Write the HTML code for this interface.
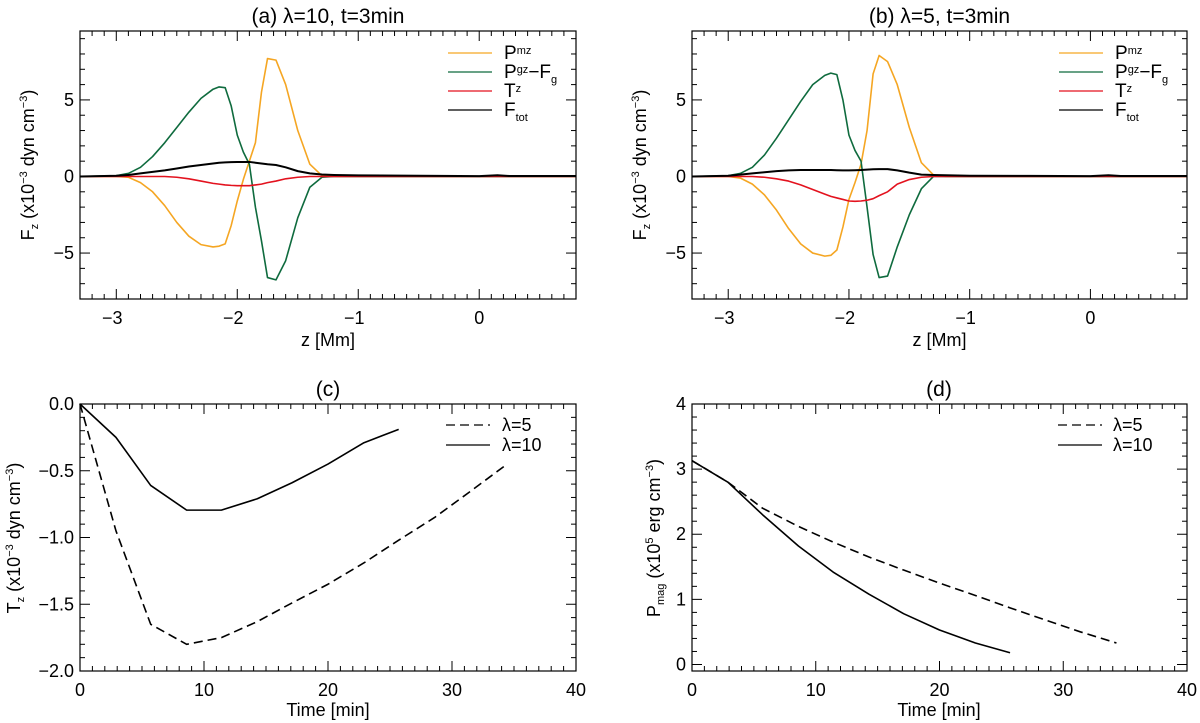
<!DOCTYPE html>
<html><head><meta charset="utf-8"><style>
html,body{margin:0;padding:0;background:#fff;}
svg{display:block;font-family:"Liberation Sans",sans-serif;}
</style></head><body>
<svg id="fig" width="1200" height="723" viewBox="0 0 1200 723"></svg>
<script>
// ---- data ----
const zGrid = [-3.3,-3.0,-2.9,-2.8,-2.7,-2.6,-2.5,-2.4,-2.3,-2.2,-2.15,-2.1,-2.05,-2.0,-1.95,-1.9,-1.85,-1.8,-1.75,-1.68,-1.6,-1.5,-1.4,-1.3,-1.2,-1.0,-0.5,0,0.15,0.25,0.8];
const aPmz  = [0,0,-0.05,-0.4,-1.0,-1.9,-3.0,-3.9,-4.45,-4.6,-4.55,-4.4,-3.2,-1.6,-0.2,1.0,2.2,5.5,7.7,7.6,6.0,3.0,0.8,0.05,0,0,0,0,0,0,0];
const aPgz  = [0,0.05,0.2,0.6,1.3,2.2,3.2,4.2,5.1,5.7,5.85,5.8,4.6,2.7,1.6,0.8,-2.0,-4.2,-6.6,-6.75,-5.5,-2.7,-0.7,-0.05,0,0,0,0,0,0,0];
const aTz   = [0,0,0,0,0,0,-0.05,-0.15,-0.3,-0.45,-0.5,-0.55,-0.58,-0.6,-0.6,-0.6,-0.55,-0.5,-0.4,-0.3,-0.15,-0.05,0,0,0,0,0,0,0,0,0];
const aFtot = [0,0.05,0.1,0.2,0.3,0.4,0.52,0.65,0.75,0.85,0.9,0.92,0.94,0.95,0.95,0.95,0.9,0.85,0.8,0.75,0.6,0.35,0.2,0.13,0.1,0.07,0.05,0.02,0.08,0.03,0.03];
const bPmz  = [0,0,-0.1,-0.5,-1.2,-2.2,-3.4,-4.4,-5.0,-5.2,-5.15,-4.8,-3.3,-1.5,-0.4,0.8,3.0,6.7,7.9,7.5,6.0,3.2,0.9,0.1,0,0,0,0,0,0,0];
const bPgz  = [0,0.05,0.2,0.6,1.4,2.5,3.7,4.9,6.0,6.6,6.75,6.65,5.0,2.7,1.7,1.0,-2.0,-5.1,-6.6,-6.5,-4.6,-2.5,-0.8,0,0,0,0,0,0,0,0];
const bTz   = [0,0,0,0,-0.05,-0.15,-0.3,-0.55,-0.85,-1.15,-1.3,-1.4,-1.5,-1.6,-1.62,-1.6,-1.55,-1.45,-1.25,-1.0,-0.5,-0.2,-0.05,0,0,0,0,0,0,0,0];
const bFtot = [0,0.05,0.12,0.2,0.28,0.35,0.4,0.42,0.42,0.42,0.42,0.41,0.4,0.4,0.41,0.42,0.45,0.47,0.48,0.48,0.4,0.25,0.12,0.1,0.08,0.05,0.04,0.02,0.08,0.03,0.03];
const tL10 = [0,2.9,5.7,8.6,11.4,14.3,17.1,20,22.9,25.7];
const tL5  = [0,2.9,5.7,8.6,11.4,14.3,17.1,20,22.9,25.7,28.6,31.4,34.3];
const cTz10 = [0,-0.25,-0.61,-0.795,-0.795,-0.71,-0.59,-0.45,-0.29,-0.19];
const cTz5  = [0,-0.95,-1.65,-1.8,-1.75,-1.63,-1.49,-1.35,-1.19,-1.02,-0.85,-0.66,-0.46];
const dP10  = [3.13,2.8,2.3,1.82,1.42,1.08,0.78,0.53,0.33,0.18];
const dP5   = [3.13,2.8,2.4,2.12,1.88,1.65,1.45,1.25,1.06,0.87,0.68,0.5,0.33];
const zTicks = [-3,-2,-1,0];
const fTicks = [-5,0,5];
const tTicks = [0,10,20,30,40];
const cTicks = [-2.0,-1.5,-1.0,-0.5,0.0];
const dTicks = [0,1,2,3,4];

const NS="http://www.w3.org/2000/svg";
const svg=document.getElementById('fig');
function el(tag,attrs,parent){const e=document.createElementNS(NS,tag);for(const k in attrs)e.setAttribute(k,attrs[k]);(parent||svg).appendChild(e);return e;}

function panel(o){
  const g=el('g',{});
  
  
  const sx=v=>o.x0+(v-o.xr[0])/(o.xr[1]-o.xr[0])*(o.x1-o.x0);
  const sy=v=>o.y1-(v-o.yr[0])/(o.yr[1]-o.yr[0])*(o.y1-o.y0);
  const mk=(a,b,step,fn)=>{const n=Math.round((b-a)/step);for(let i=0;i<=n;i++)fn(a+i*step);};
  const xs=Math.ceil(o.xr[0]/o.xmin-1e-6)*o.xmin;
  mk(xs,o.xr[1],o.xmin,v=>{const X=sx(v);if(X<o.x0-0.1||X>o.x1+0.1)return;
    const maj=o.xt.some(t=>Math.abs(t-v)<1e-6);const L=maj?10:5;
    el('line',{x1:X,x2:X,y1:o.y1,y2:o.y1-L,stroke:'#000','stroke-width':1},g);
    el('line',{x1:X,x2:X,y1:o.y0,y2:o.y0+L,stroke:'#000','stroke-width':1},g);});
  const ys=Math.ceil(o.yr[0]/o.ymin-1e-6)*o.ymin;
  mk(ys,o.yr[1],o.ymin,v=>{const Y=sy(v);if(Y<o.y0-0.1||Y>o.y1+0.1)return;
    const maj=o.yt.some(t=>Math.abs(t-v)<1e-6);const L=maj?10:5;
    el('line',{x1:o.x0,x2:o.x0+L,y1:Y,y2:Y,stroke:'#000','stroke-width':1},g);
    el('line',{x1:o.x1,x2:o.x1-L,y1:Y,y2:Y,stroke:'#000','stroke-width':1},g);});
  o.xt.forEach(t=>{const tx=el('text',{x:sx(t)-(t<0?4:0),y:o.y1+25,'text-anchor':'middle','font-size':18},g);tx.textContent=(t<0?'\u2212'+(-t):String(t));
    
    });
  o.yt.forEach(t=>{const s=o.yfmt?o.yfmt(t):String(t);const tx=el('text',{x:o.x0-6,y:sy(t)+6,'text-anchor':'end','font-size':18},g);tx.textContent=s.replace('-','\u2212');
    
    });
  o.series.forEach(s=>{
    const d=s.x.map((v,i)=>(i?'L':'M')+sx(v).toFixed(2)+','+sy(s.y[i]).toFixed(2)).join(' ');
    const p=el('path',{d:d,fill:'none',stroke:s.c,'stroke-width':s.w||1.6,'stroke-dasharray':s.dash||'none','stroke-linejoin':'round'},g);
    
    
  });
  el('rect',{x:o.x0,y:o.y0,width:o.x1-o.x0,height:o.y1-o.y0,fill:'none',stroke:'#000','stroke-width':1.2},g);
  return g;
}

function text(x,y,html,size,name,extra){const t=el('text',Object.assign({x:x,y:y,'text-anchor':'middle','font-size':size},extra||{}));t.innerHTML=html;
  
  return t;}

const C={o:'#f5a623',g:'#0f6b3e',r:'#e3121e',k:'#000'};
[['a',80,576,aPmz,aPgz,aTz,aFtot,'(a) λ=10, t=3min'],['b',692,1187,bPmz,bPgz,bTz,bFtot,'(b) λ=5, t=3min']].forEach(p=>{
  panel({name:'panel-'+p[0],x0:p[1],x1:p[2],y0:31,y1:299,xr:[-3.3,0.8],yr:[-8,9.5],xt:zTicks,yt:fTicks,xmin:0.1,ymin:1,
    series:[{x:zGrid,y:p[3],c:C.o,name:'pmz-line'},{x:zGrid,y:p[4],c:C.g,name:'pgz-fg-line'},{x:zGrid,y:p[5],c:C.r,name:'tz-line'},{x:zGrid,y:p[6],c:C.k,name:'ftot-line',w:2}]});
  const cx=(p[1]+p[2])/2;
  text(cx,23,p[7],21,'title-'+p[0]);
  text(cx,346,'z [Mm]',18,'x-axis-title');
  text(0,0,'F<tspan font-size="11" dy="4">z</tspan><tspan dy="-4"> (x10</tspan><tspan font-size="11" dy="-7">−3</tspan><tspan dy="7"> dyn cm</tspan><tspan font-size="11" dy="-7">−3</tspan><tspan dy="7">)</tspan>',18,'y-axis-title',{transform:`translate(${p[1]-46},165) rotate(-90)`});
  const lx=p[0]==='a'?448:1059;
  const labs=['P<tspan font-size="11" dy="-5">mz</tspan>','P<tspan font-size="11" dy="-5">gz</tspan><tspan dy="5">−F</tspan><tspan font-size="11" dy="5">g</tspan>','T<tspan font-size="11" dy="-5">z</tspan>','F<tspan font-size="11" dy="5">tot</tspan>'];
  [C.o,C.g,C.r,C.k].forEach((c,i)=>{const y=53+i*19;
    const l=el('line',{x1:lx,x2:lx+44,y1:y,y2:y,stroke:c,'stroke-width':1.2});
    
    
    text(lx+56,y+6,labs[i],19,'legend-entry',{'text-anchor':'start'});});
});
panel({name:'panel-c',x0:80,x1:576,y0:404,y1:671,xr:[0,40],yr:[-2.0,0.0],xt:tTicks,yt:cTicks,xmin:1,ymin:0.1,yfmt:v=>v.toFixed(1),
  series:[{x:tL5,y:cTz5,c:'#000',dash:'9,5',name:'lambda5-line'},{x:tL10,y:cTz10,c:'#000',name:'lambda10-line'}]});
panel({name:'panel-d',x0:692,x1:1187,y0:404,y1:671,xr:[0,40],yr:[-0.1,4.0],xt:tTicks,yt:dTicks,xmin:1,ymin:0.2,
  series:[{x:tL5,y:dP5,c:'#000',dash:'9,5',name:'lambda5-line'},{x:tL10,y:dP10,c:'#000',name:'lambda10-line'}]});
text(328,396,'(c)',21,'title-c');
text(939,396,'(d)',21,'title-d');
text(328,716,'Time [min]',18,'x-axis-title');
text(939,716,'Time [min]',18,'x-axis-title');
text(0,0,'T<tspan font-size="11" dy="4">z</tspan><tspan dy="-4"> (x10</tspan><tspan font-size="11" dy="-7">−3</tspan><tspan dy="7"> dyn cm</tspan><tspan font-size="11" dy="-7">−3</tspan><tspan dy="7">)</tspan>',18,'y-axis-title',{transform:'translate(20,538) rotate(-90)'});
text(0,0,'P<tspan font-size="11" dy="4">mag</tspan><tspan dy="-4"> (x10</tspan><tspan font-size="11" dy="-7">5</tspan><tspan dy="7"> erg cm</tspan><tspan font-size="11" dy="-7">−3</tspan><tspan dy="7">)</tspan>',18,'y-axis-title',{transform:'translate(660,538) rotate(-90)'});
[[446,502],[1058,1113]].forEach(p=>{
  [['9,5','λ=5',425],['none','λ=10',445]].forEach(e=>{
    const l=el('line',{x1:p[0],x2:p[0]+44,y1:e[2],y2:e[2],stroke:'#000','stroke-width':1.2,'stroke-dasharray':e[0]});
    
    
    text(p[1],e[2]+6,e[1],18,'legend-entry',{'text-anchor':'start'});
  });
});
</script>
</body></html>
